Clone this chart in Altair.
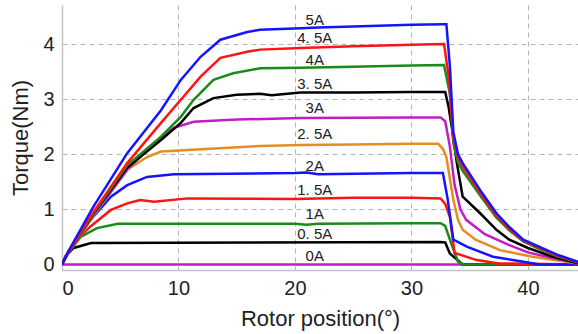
import altair as alt
import pandas as pd

# ---- data ----
series = ["0A", "0.5A", "1A", "1.5A", "2A", "2.5A", "3A", "3.5A", "4A", "4.5A", "5A"]
colors = ["#c41cc4", "#000000", "#1a8a1a", "#ff1414", "#1414ff", "#e38e22",
          "#c41cc4", "#000000", "#1a8a1a", "#ff1414", "#1414ff"]

x_0A = [0, 44.3]
y_0A = [0, 0]

x_05A = [0, 0.3, 1.0, 2.5, 32.5, 32.9, 33.3, 34.4, 44.3]
y_05A = [0, 0.15, 0.3, 0.39, 0.41, 0.4, 0.2, 0, 0]

x_1A = [0, 0.5, 1.6, 3.0, 4.8, 20, 21, 22, 30, 32.5, 32.9, 33.3, 34, 34.5, 44.3]
y_1A = [0, 0.2, 0.5, 0.66, 0.74, 0.74, 0.72, 0.74, 0.75, 0.75, 0.7, 0.45, 0.05, 0, 0]

x_15A = [0, 0.5, 1.5, 2.5, 4.2, 5.6, 6.7, 7.9, 10.8, 20, 25, 30, 32.5, 32.9, 33.3, 33.7, 35.6, 37.5, 44.3]
y_15A = [0, 0.2, 0.5, 0.7, 0.99, 1.11, 1.17, 1.14, 1.2, 1.19, 1.21, 1.21, 1.2, 1.1, 0.86, 0.21, 0.08, 0.02, 0]

x_2A = [0, 0.5, 2, 4.2, 5.6, 7.3, 9.6, 20, 21, 22, 30, 32.7, 33.1, 33.6, 34.8, 37, 39.6, 41, 44.3]
y_2A = [0, 0.2, 0.7, 1.23, 1.44, 1.59, 1.64, 1.66, 1.67, 1.64, 1.66, 1.66, 1.2, 0.45, 0.32, 0.14, 0.05, 0, 0]

x_25A = [0, 0.5, 2.7, 5.6, 7.3, 8.5, 10.8, 17, 20.5, 25, 30, 32.3, 32.7, 33.0, 33.6, 34.0, 34.4, 35.5, 37.6, 40.4, 44.3]
y_25A = [0, 0.2, 0.88, 1.72, 1.95, 2.05, 2.08, 2.15, 2.17, 2.18, 2.19, 2.19, 2.1, 1.95, 1.17, 0.81, 0.63, 0.45, 0.26, 0.14, 0.02]

x_3A = [0, 0.5, 2.7, 5.6, 7.9, 9.6, 11.3, 15, 20.5, 30, 32.5, 32.9, 33.3, 33.7, 34.2, 34.7, 36.3, 38.4, 40, 42, 44.3]
y_3A = [0, 0.2, 0.9, 1.72, 2.2, 2.48, 2.59, 2.63, 2.66, 2.67, 2.67, 2.6, 2.14, 1.45, 1.0, 0.81, 0.55, 0.35, 0.22, 0.12, 0.02]

x_35A = [0, 0.5, 2.7, 5.6, 8.5, 10.2, 11.3, 13, 15, 17, 18, 20.5, 25, 30, 32.9, 33.2, 33.5, 33.9, 34.4, 35.9, 37.3, 38.4, 40, 42, 44.3]
y_35A = [0, 0.21, 0.92, 1.76, 2.26, 2.57, 2.84, 3.02, 3.08, 3.1, 3.07, 3.12, 3.12, 3.13, 3.13, 2.85, 2.44, 1.84, 1.23, 0.93, 0.63, 0.45, 0.3, 0.15, 0.02]

x_4A = [0, 0.5, 2.7, 5.6, 8.5, 10.2, 11.3, 13, 14.7, 17, 20.5, 25, 30, 32.8, 33.3, 33.6, 34.0, 34.4, 35.9, 37.3, 38.4, 39.6, 41, 42.5, 44.3]
y_4A = [0, 0.21, 0.93, 1.8, 2.32, 2.68, 2.99, 3.35, 3.47, 3.56, 3.57, 3.59, 3.61, 3.62, 3.1, 2.2, 1.85, 1.7, 1.25, 0.85, 0.62, 0.42, 0.28, 0.15, 0.04]

x_45A = [0, 0.5, 2.7, 5.6, 8.5, 10.2, 11.9, 13.6, 15.9, 17, 20.5, 25, 30, 32.8, 33.2, 33.6, 34.0, 34.4, 35.9, 37.3, 38.4, 39.6, 41, 42.5, 44.3]
y_45A = [0, 0.21, 0.95, 1.84, 2.57, 2.99, 3.41, 3.75, 3.86, 3.9, 3.93, 3.96, 3.99, 4.0, 3.4, 2.3, 1.95, 1.78, 1.3, 0.88, 0.64, 0.43, 0.3, 0.16, 0.04]

x_5A = [0, 0.5, 2.7, 5.6, 8.5, 10.2, 11.9, 13.6, 15.9, 17, 20.5, 22, 25, 30, 32.8, 33.0, 33.3, 33.6, 34.0, 34.4, 35.9, 37.3, 38.4, 39.6, 41, 42.5, 44.3]
y_5A = [0, 0.22, 1.05, 2.02, 2.8, 3.35, 3.77, 4.08, 4.22, 4.26, 4.29, 4.3, 4.32, 4.35, 4.36, 4.36, 3.6, 2.4, 2.0, 1.84, 1.35, 0.93, 0.68, 0.45, 0.32, 0.18, 0.05]

curve_x = [x_0A, x_05A, x_1A, x_15A, x_2A, x_25A, x_3A, x_35A, x_4A, x_45A, x_5A]
curve_y = [y_0A, y_05A, y_1A, y_15A, y_2A, y_25A, y_3A, y_35A, y_4A, y_45A, y_5A]

label_text = ["0A", "0. 5A", "1A", "1. 5A", "2A", "2. 5A", "3A", "3. 5A", "4A", "4. 5A", "5A"]
label_y = [0.15, 0.55, 0.92, 1.35, 1.79, 2.37, 2.84, 3.28, 3.71, 4.11, 4.44]
label_x = 21.7

# ---- build tables ----
rows = []
for s, xs, ys in zip(series, curve_x, curve_y):
    for i, (xv, yv) in enumerate(zip(xs, ys)):
        rows.append({"series": s, "x": xv, "y": yv, "idx": i})
df = pd.DataFrame(rows)
labels = pd.DataFrame({"text": label_text, "y": label_y, "x": [label_x] * len(label_text)})

xscale = alt.Scale(domain=[0, 44.3], nice=False, zero=False)
yscale = alt.Scale(domain=[-0.1, 4.71], nice=False, zero=False)

lines = alt.Chart(df).mark_line(strokeWidth=2.5, clip=True, interpolate="linear").encode(
    x=alt.X("x:Q", scale=xscale,
            axis=alt.Axis(values=[0, 10, 20, 30, 40], title="Rotor position(°)", format="d")),
    y=alt.Y("y:Q", scale=yscale,
            axis=alt.Axis(values=[0, 1, 2, 3, 4], title="Torque(Nm)", format="d")),
    color=alt.Color("series:N", scale=alt.Scale(domain=series, range=colors), legend=None),
    detail="series:N",
    order="idx:Q",
)

text = alt.Chart(labels).mark_text(
    font="Liberation Sans", fontSize=15, align="center", baseline="middle", color="#222222"
).encode(
    x=alt.X("x:Q", scale=xscale),
    y=alt.Y("y:Q", scale=yscale),
    text="text:N",
)

chart = alt.layer(lines, text).properties(
    width=516, height=265,
    autosize=alt.AutoSizeParams(type="none"),
    padding={"left": 62, "top": 5, "right": 0, "bottom": 64},
).configure_view(stroke=None).configure_axis(
    labelFont="Liberation Sans", titleFont="Liberation Sans",
    labelFontSize=20, titleFontSize=22, labelColor="#222222", titleColor="#222222",
    titleFontWeight="normal",
    grid=True, gridDash=[5, 4], gridColor="#b4b4b4", gridWidth=1,
    domainColor="#c4c4c4", domainWidth=1.5, ticks=False,
).configure_axisX(labelPadding=8, titlePadding=10).configure_axisY(labelPadding=8, titlePadding=10)

chart.save("out.html", embed_options={"renderer": "svg", "actions": False})
